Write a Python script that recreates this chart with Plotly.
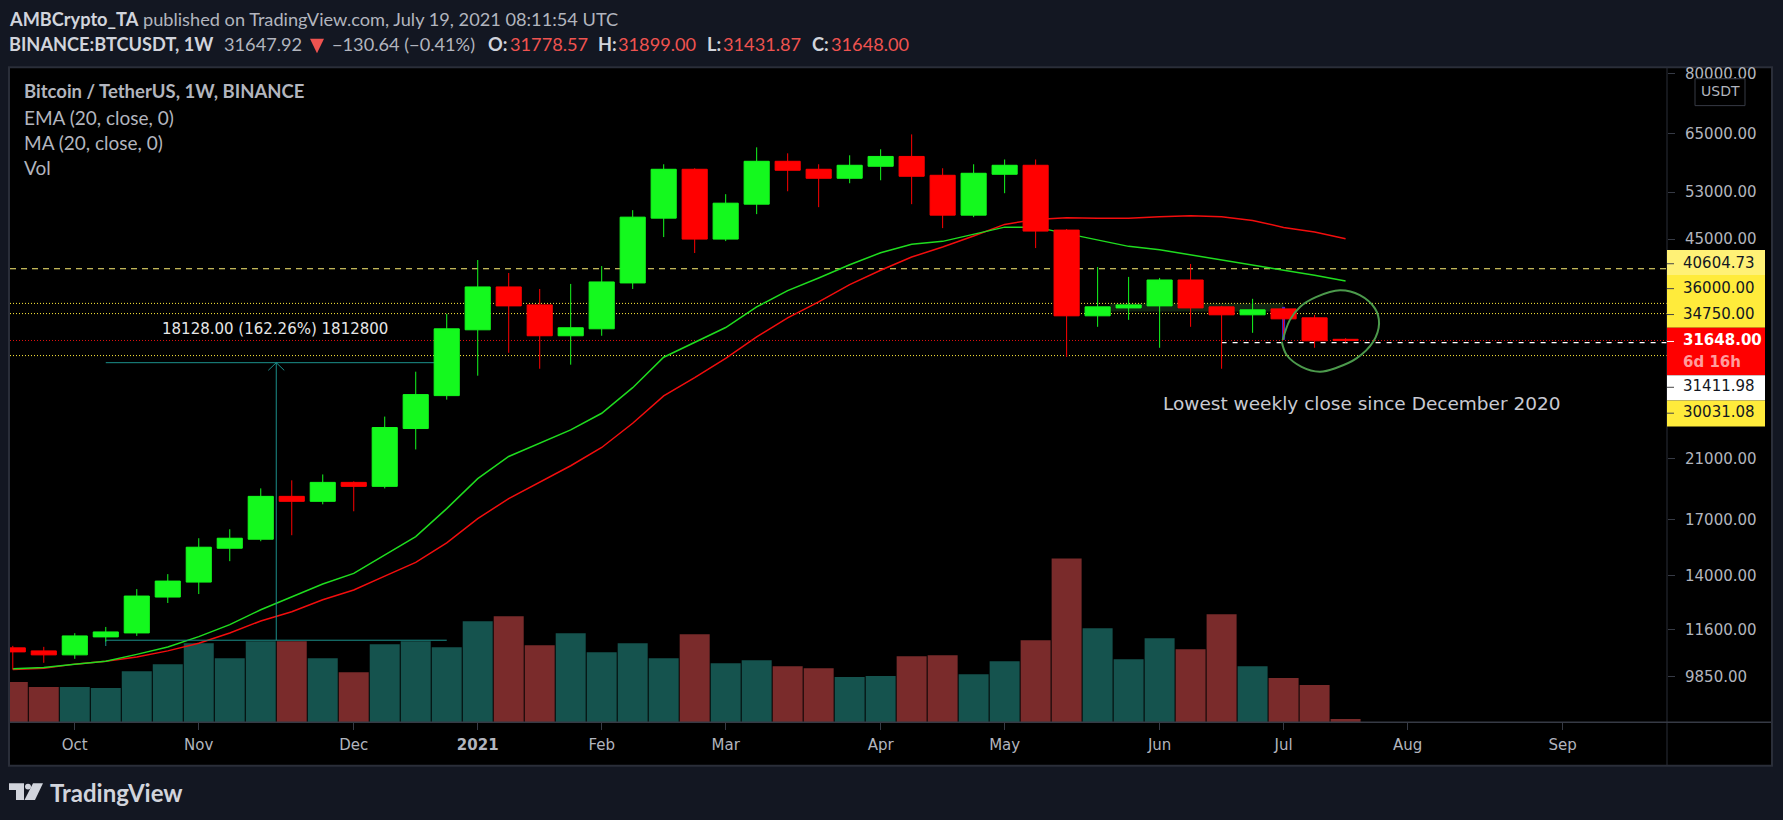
import pandas as pd
import plotly.graph_objects as go

W, H = 1783, 820
LAST_BAR = pd.Timestamp("2021-07-19")
dates = [LAST_BAR - pd.Timedelta(weeks=k) for k in range(43, -1, -1)]

opens = [10880, 10766, 10618, 11302, 11459, 12980, 13673, 15380, 15868, 18416, 18100, 19332, 19066, 23308,
         26132, 32846, 38120, 35815, 32170, 32960, 38651, 48410, 57366, 45010, 50820, 58980, 57366, 55600,
         57970, 59980, 56180, 48920, 56380, 58170, 46440, 34480, 35440, 35690, 39050, 35570, 34600, 35320,
         34240, 31778.57]
highs = [10955, 10918, 11450, 11700, 13345, 14056, 15923, 16428, 18933, 19470, 19873, 19400, 24297, 28397,
         34716, 41856, 40013, 37850, 38520, 40990, 49771, 58370, 57570, 52610, 61910, 60636, 58370, 60220,
         61500, 64760, 57570, 58370, 59350, 59350, 46600, 40850, 39470, 39330, 41280, 35690, 36580, 35320,
         34600, 31899]
lows = [10091, 10330, 10473, 11119, 11341, 12715, 13116, 14704, 15758, 16090, 17914, 17486, 18933, 21675,
        25770, 28005, 30329, 28690, 29097, 32170, 37850, 45330, 42884, 44700, 49090, 53150, 50290, 54651,
        55220, 50820, 46760, 48580, 52790, 43630, 29900, 33190, 34000, 30860, 33190, 28690, 32505, 31725,
        30860, 31431.87]
closes = [10729, 10618, 11341, 11499, 13025, 13720, 15434, 15923, 18416, 18100, 19332, 19066, 23390, 26223,
          32958, 38120, 35691, 32170, 33080, 38785, 48577, 57366, 45010, 50993, 58980, 57170, 55600, 58170,
          59980, 55990, 48920, 56577, 58170, 46280, 34480, 35570, 35815, 39050, 35440, 34600, 35200, 34120,
          31617, 31648]
volume = [202, 177, 177, 172, 257, 292, 397, 322, 407, 407, 322, 252, 392, 407, 377, 507, 532, 387, 447, 352,
          397, 322, 442, 297, 312, 282, 272, 227, 232, 332, 337, 242, 307, 412, 822, 472, 317, 422, 367, 542,
          282, 222, 187, 17]
ema20 = [10116, 10161, 10282, 10389, 10636, 10916, 11313, 11793, 12422, 12980, 13579, 14090, 15013, 16017,
         17648, 19581, 21153, 22151, 23202, 24578, 26864, 29859, 31430, 33105, 35567, 37634, 39323, 41181,
         42928, 44195, 44657, 45800, 46922, 46922, 45850, 44855, 43890, 43377, 42633, 41813, 41181, 40473,
         39694, 38919]
ma20 = [10091, 10140, 10282, 10389, 10544, 10766, 11057, 11459, 11945, 12336, 12859, 13300, 13958, 14638,
        15666, 17048, 18270, 19332, 20483, 21823, 23742, 26105, 27812, 29737, 32056, 34237, 36190, 38424,
        40390, 42292, 43784, 45486, 47367, 48196, 48463, 48410, 48410, 48630, 48800, 48630, 48028, 46874,
        46120, 45060]

tick_dates = ["2020-10-05", "2020-11-02", "2020-12-07", "2021-01-04", "2021-02-01", "2021-03-01",
              "2021-04-05", "2021-05-03", "2021-06-07", "2021-07-05", "2021-08-02", "2021-09-06"]
tick_months = ["Oct", "Nov", "Dec", "<b>2021</b>", "Feb", "Mar", "Apr", "May", "Jun", "Jul", "Aug", "Sep"]
price_ticks = [80000, 65000, 53000, 45000, 21000, 17000, 14000, 11600, 9850]

circle_weeks = [-2.03, -1.80, -1.47, -0.94, -0.18, 0.46, 0.95, 1.08, 0.89, 0.35, -0.29, -0.83, -1.42, -1.90, -2.06]
circle_prices = [31693, 33966, 35567, 36820, 37680, 37040, 35350, 33570, 31507, 29737, 28790, 28397, 28880, 30090, 31507]

GREEN, RED = "#14f91e", "#ff0000"
TEAL_V, RED_V = "#15534e", "#7a2b2b"
AX = "#2a2e39"
TXT = "#b2b5be"
SOFT = "#d1d4dc"
PRICE_RED = "#ef5350"
AXFONT = "DejaVu Sans"
HEAD = "Lato"


def week(w):
    return LAST_BAR + pd.Timedelta(days=7 * w)


def px(x):
    return x / W


def py(y):
    return 1 - y / H


shapes = []


def rect(x0, y0, x1, y1, fill, line=None, lw=0, layer="above"):
    shapes.append(dict(type="rect", xref="paper", yref="paper", x0=px(x0), x1=px(x1), y0=py(y0), y1=py(y1),
                       fillcolor=fill, line=dict(color=line or fill, width=lw), layer=layer))


def seg(x0, y0, x1, y1, color, lw=1, layer="above"):
    shapes.append(dict(type="line", xref="paper", yref="paper", x0=px(x0), x1=px(x1), y0=py(y0), y1=py(y1),
                       line=dict(color=color, width=lw), layer=layer))


def poly(pts, fill):
    d = "M " + " L ".join(f"{px(a):.5f},{py(b):.5f}" for a, b in pts) + " Z"
    shapes.append(dict(type="path", xref="paper", yref="paper", path=d, fillcolor=fill,
                       line=dict(width=0), layer="above"))


annotations = []


def text(s, x, y, size, color, font=AXFONT, anchor="left"):
    if anchor == "left":
        x -= 2
    annotations.append(dict(text=s, x=px(x), y=py(y - 1), xref="paper", yref="paper", xanchor=anchor, yanchor="middle",
                            showarrow=False, font=dict(size=size, color=color, family=font), align="left"))


# frame
rect(9, 64.5, 1772, 765.5, "#000000", AX, 2, layer="below")
seg(1667, 65, 1667, 765, AX)
seg(10, 722, 1771, 722, "#363a45", 1.5)

# price tags on the scale
tags = [("40604.73", 248, 273, "#fff176", 261.7), ("36000.00", 273, 299, "#ffeb3b", 286.7),
        ("34750.00", 299, 326, "#ffeb3b", 312.7), ("31648.00", 326, 373.5, "#ff0000", 339.7),
        ("31411.98", 373.5, 399, "#ffffff", 385.7), ("30031.08", 399, 425, "#ffeb3b", 411.7)]
for label, y0, y1, fill, yc in tags:
    rect(1667, y0, 1765, y1, fill)
    seg(1667, yc, 1674, yc, "#444444" if fill != "#ff0000" else "#ffffff")
    text(f"<b>{label}</b>" if fill == "#ff0000" else label, 1683, yc, 15,
         "#ffffff" if fill == "#ff0000" else "#131722")
text("<b>6d 16h</b>", 1683, 361, 15, "#ff9c9c")

# USDT button
rect(1695, 76, 1745, 103, "#000000", "#363a45", 1)
text("USDT", 1720, 89.5, 14, TXT, anchor="center")

# header
HS = 18.2
text("<b>AMBCrypto_TA</b> <span style='color:#b2b5be'>published on TradingView.com, July 19, 2021 08:11:54 UTC</span>",
     9, 17.5, HS, SOFT, HEAD)
row2 = [("<b>BINANCE:BTCUSDT, 1W</b>", 9, SOFT), ("31647.92", 224, TXT), ("−130.64 (−0.41%)", 332, TXT),
        ("<b>O:</b>", 488, SOFT), ("31778.57", 510, PRICE_RED), ("<b>H:</b>", 598, SOFT), ("31899.00", 618, PRICE_RED),
        ("<b>L:</b>", 707, SOFT), ("31431.87", 723, PRICE_RED), ("<b>C:</b>", 812, SOFT), ("31648.00", 831, PRICE_RED)]
for s, x, c in row2:
    text(s, x, 42.5, HS, c, HEAD)
poly([(310, 36), (324, 36), (317, 50.5)], PRICE_RED)

# legend block
LS = 19
text("<b>Bitcoin / TetherUS, 1W, BINANCE</b>", 24, 89.2, LS - 0.5, TXT, HEAD)
text("EMA (20, close, 0)", 24, 115.5, LS, TXT, HEAD)
text("MA (20, close, 0)", 24, 141.5, LS, TXT, HEAD)
text("Vol", 24, 166.5, LS, TXT, HEAD)

# notes on the chart
text("18128.00 (162.26%) 1812800", 275, 327.7, 15, "#e6e6e6", anchor="center")
text("Lowest weekly close since December 2020", 1163, 403, 18.5, "#c8cad2")

# logo
poly([(9, 783), (24, 783), (24, 800), (16, 800), (16, 790), (9, 790)], SOFT)
poly([(33, 783), (43, 783), (35, 800), (24.5, 800)], SOFT)
shapes.append(dict(type="circle", xref="paper", yref="paper", x0=px(25), x1=px(31), y0=py(789.5), y1=py(783.5),
                   fillcolor=SOFT, line=dict(width=0), layer="above"))
text("<b>TradingView</b>", 50, 793, 24, SOFT, HEAD)

fig = go.Figure()

fig.add_bar(x=dates, y=volume, yaxis="y", width=30 / 31 * 7 * 86400000,
            marker=dict(color=[RED_V if c < o else TEAL_V for o, c in zip(opens, closes)], line=dict(width=0)),
            hoverinfo="skip", showlegend=False)


def line2(x, y, color, width=1, dash=None, fill=None, fillcolor=None, yaxis="y2"):
    fig.add_scatter(x=x, y=y, mode="lines", yaxis=yaxis, hoverinfo="skip", showlegend=False, fill=fill,
                    fillcolor=fillcolor, line=dict(color=color, width=width, dash=dash))


# highlighted band and blue marker
line2([week(-7.6), week(-2), week(-2), week(-7.6), week(-7.6)], [36000, 36000, 35000, 35000, 36000],
      "rgba(0,0,0,0)", 0, fill="toself", fillcolor="#112411")
line2([week(-2), week(-2)], [35570, 31725], "#3b2ad6", 3)

# levels
xl, xr = week(-43.09), week(10.37)
line2([xl, xr], [40604.73] * 2, "#fff176", 1.2, "6px,5px")
for lvl in (36000, 34750, 30031.08):
    line2([xl, xr], [lvl] * 2, "#ffeb3b", 1, "1px,2px")
line2([xl, xr], [31648] * 2, "#e01010", 1, "1px,2px")
line2([week(-4), xr], [31411.98] * 2, "#ffffff", 1.2, "5px,6px")

# moving averages
line2(dates, ma20, "#f20d0d", 1.5)
line2(dates, ema20, "#1fdc1f", 1.5)

# price range drawing
TC = "#1b8f8a"
line2([week(-40), week(-29)], [29300, 29300], TC)
line2([week(-40), week(-40), week(-29)], [10950, 11172, 11172], TC)
arrow_x = week(-34.5)
line2([arrow_x, arrow_x], [11172, 29300], TC)
line2([arrow_x - pd.Timedelta(days=1.8), arrow_x, arrow_x + pd.Timedelta(days=1.8)], [28530, 29300, 28530], TC)

fig.add_trace(go.Candlestick(x=dates, open=opens, high=highs, low=lows, close=closes, yaxis="y3",
                             whiskerwidth=0, showlegend=False, hoverinfo="skip",
                             increasing=dict(fillcolor=GREEN, line=dict(color=GREEN, width=1)),
                             decreasing=dict(fillcolor=RED, line=dict(color=RED, width=1))))

fig.add_scatter(x=[week(w) for w in circle_weeks], y=circle_prices, mode="lines", yaxis="y3", hoverinfo="skip",
                showlegend=False, line=dict(color="#4c9a4c", width=2, shape="spline", smoothing=1))

price_range = [3.92423, 4.91106]
dom = [1 - 722 / H, 1 - 65.5 / H]
fig.update_layout(
    width=W, height=H, margin=dict(l=0, r=0, t=0, b=0, pad=0), paper_bgcolor="#131722", plot_bgcolor="rgba(0,0,0,0)",
    showlegend=False, boxgap=0.19, boxgroupgap=0, hovermode=False, shapes=shapes, annotations=annotations,
    xaxis=dict(type="date", domain=[10 / W, 1667 / W], range=[xl, xr], showgrid=False, zeroline=False,
               rangeslider=dict(visible=False), tickmode="array", tickvals=tick_dates, ticktext=tick_months,
               ticks="outside", ticklen=7, tickcolor="#363a45", tickfont=dict(family=AXFONT, size=15, color=TXT),
               ticklabelstandoff=2, showline=False, anchor="y", fixedrange=True),
    yaxis=dict(domain=dom, range=[0, 3282], visible=False, fixedrange=True),
    yaxis2=dict(domain=dom, type="log", range=price_range, overlaying="y", visible=False, fixedrange=True),
    yaxis3=dict(domain=dom, type="log", range=price_range, overlaying="y", side="right", showgrid=False, zeroline=False,
                tickmode="array", tickvals=price_ticks, ticktext=[f"{v}.00" for v in price_ticks], ticks="outside",
                ticklen=7, tickcolor="#363a45", tickfont=dict(family=AXFONT, size=15, color=TXT),
                ticklabelstandoff=7, showline=False, fixedrange=True),
)

fig.write_html("out.html", config=dict(displayModeBar=False),
               post_script="document.body.style.margin='0';document.body.style.overflow='hidden';")
